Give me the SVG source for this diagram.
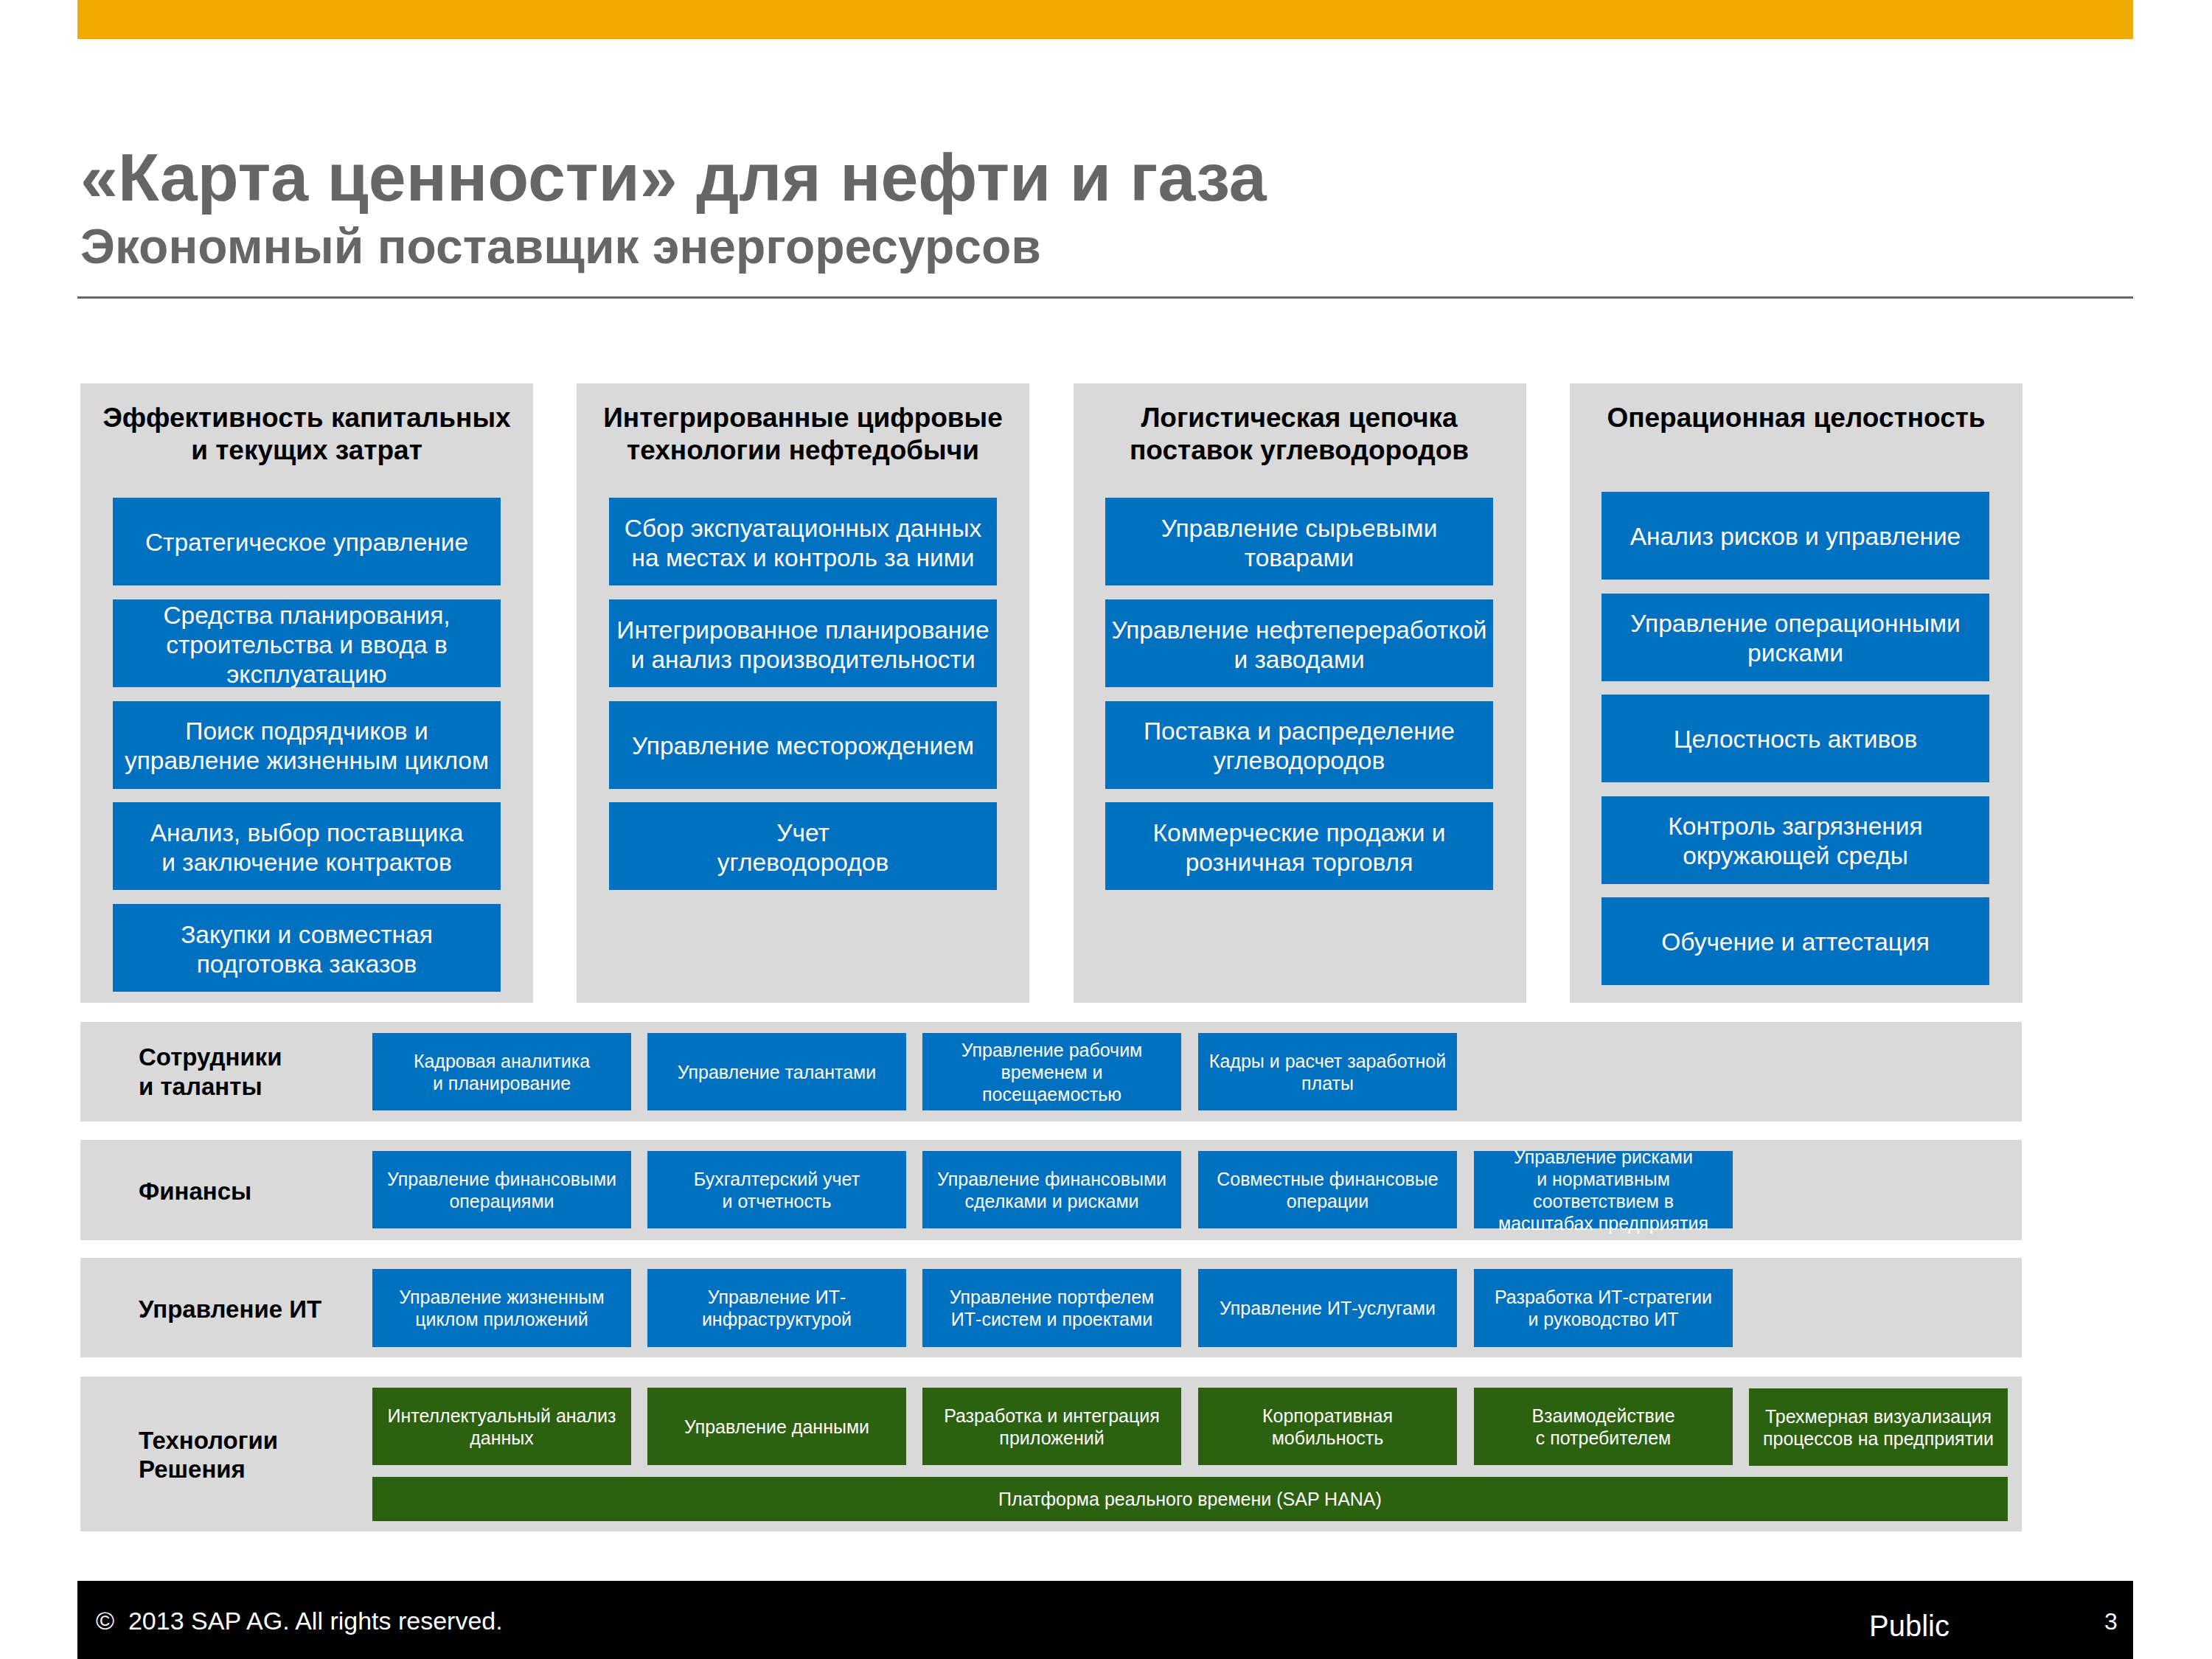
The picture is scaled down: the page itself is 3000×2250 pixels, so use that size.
<svg xmlns="http://www.w3.org/2000/svg" width="3000" height="2250" viewBox="0 0 3000 2250">
<style>
.bg{fill:#ffffff}
.panel{fill:#D9D9D9}
.blue{fill:#0070C0}
.green{fill:#2B610F}
.ttl{font-family:"Liberation Sans",Arial,sans-serif;font-weight:bold;fill:#666666}
.colt{font-family:"Liberation Sans",Arial,sans-serif;font-weight:bold;font-size:37px;fill:#000000;text-anchor:middle}
.bt{font-family:"Liberation Sans",Arial,sans-serif;font-size:33.5px;fill:#ffffff;text-anchor:middle}
.st{font-family:"Liberation Sans",Arial,sans-serif;font-size:25px;fill:#ffffff;text-anchor:middle}
.bl{font-family:"Liberation Sans",Arial,sans-serif;font-weight:bold;font-size:33px;fill:#000000}
.ft{font-family:"Liberation Sans",Arial,sans-serif;fill:#ffffff}
</style>
<rect class="bg" x="0" y="0" width="3000" height="2250"/>
<g id="header">
<rect x="105" y="0" width="2788" height="53" fill="#F0AB00"/>
<text class="ttl" x="109" y="272" font-size="91.5">«Карта ценности» для нефти и газа</text>
<text class="ttl" x="109" y="357" font-size="66">Экономный поставщик энергоресурсов</text>
<rect x="105" y="402" width="2788" height="3" fill="#666666"/>
</g>
<g id="connectors"></g>

<g id="col1">
<rect class="panel" x="109" y="520" width="614" height="840"/>
<text class="colt" x="416" y="579">Эффективность капитальных</text>
<text class="colt" x="416" y="623">и текущих затрат</text>
</g>
<g id="c1b1"><rect class="blue" x="153" y="675" width="526" height="119"/><text class="bt" x="416" y="747">Стратегическое управление</text></g>
<g id="c1b2"><rect class="blue" x="153" y="813" width="526" height="119"/><text class="bt" x="416" y="846">Средства планирования,</text><text class="bt" x="416" y="886">строительства и ввода в</text><text class="bt" x="416" y="926">эксплуатацию</text></g>
<g id="c1b3"><rect class="blue" x="153" y="951" width="526" height="119"/><text class="bt" x="416" y="1003">Поиск подрядчиков и</text><text class="bt" x="416" y="1043">управление жизненным циклом</text></g>
<g id="c1b4"><rect class="blue" x="153" y="1088" width="526" height="119"/><text class="bt" x="416" y="1141">Анализ, выбор поставщика</text><text class="bt" x="416" y="1181">и заключение контрактов</text></g>
<g id="c1b5"><rect class="blue" x="153" y="1226" width="526" height="119"/><text class="bt" x="416" y="1279">Закупки и совместная</text><text class="bt" x="416" y="1319">подготовка заказов</text></g>

<g id="col2">
<rect class="panel" x="782" y="520" width="614" height="840"/>
<text class="colt" x="1089" y="579">Интегрированные цифровые</text>
<text class="colt" x="1089" y="623">технологии нефтедобычи</text>
</g>
<g id="c2b1"><rect class="blue" x="826" y="675" width="526" height="119"/><text class="bt" x="1089" y="728">Сбор экспуатационных данных</text><text class="bt" x="1089" y="768">на местах и контроль за ними</text></g>
<g id="c2b2"><rect class="blue" x="826" y="813" width="526" height="119"/><text class="bt" x="1089" y="866">Интегрированное планирование</text><text class="bt" x="1089" y="906">и анализ производительности</text></g>
<g id="c2b3"><rect class="blue" x="826" y="951" width="526" height="119"/><text class="bt" x="1089" y="1023">Управление месторождением</text></g>
<g id="c2b4"><rect class="blue" x="826" y="1088" width="526" height="119"/><text class="bt" x="1089" y="1141">Учет</text><text class="bt" x="1089" y="1181">углеводородов</text></g>

<g id="col3">
<rect class="panel" x="1456" y="520" width="614" height="840"/>
<text class="colt" x="1762" y="579">Логистическая цепочка</text>
<text class="colt" x="1762" y="623">поставок углеводородов</text>
</g>
<g id="c3b1"><rect class="blue" x="1499" y="675" width="526" height="119"/><text class="bt" x="1762" y="728">Управление сырьевыми</text><text class="bt" x="1762" y="768">товарами</text></g>
<g id="c3b2"><rect class="blue" x="1499" y="813" width="526" height="119"/><text class="bt" x="1762" y="866">Управление нефтепереработкой</text><text class="bt" x="1762" y="906">и заводами</text></g>
<g id="c3b3"><rect class="blue" x="1499" y="951" width="526" height="119"/><text class="bt" x="1762" y="1003">Поставка и распределение</text><text class="bt" x="1762" y="1043">углеводородов</text></g>
<g id="c3b4"><rect class="blue" x="1499" y="1088" width="526" height="119"/><text class="bt" x="1762" y="1141">Коммерческие продажи и</text><text class="bt" x="1762" y="1181">розничная торговля</text></g>

<g id="col4">
<rect class="panel" x="2129" y="520" width="614" height="840"/>
<text class="colt" x="2436" y="579">Операционная целостность</text>
</g>
<g id="c4b1"><rect class="blue" x="2172" y="667" width="526" height="119"/><text class="bt" x="2435" y="739">Анализ рисков и управление</text></g>
<g id="c4b2"><rect class="blue" x="2172" y="805" width="526" height="119"/><text class="bt" x="2435" y="857">Управление операционными</text><text class="bt" x="2435" y="897">рисками</text></g>
<g id="c4b3"><rect class="blue" x="2172" y="942" width="526" height="119"/><text class="bt" x="2435" y="1014">Целостность активов</text></g>
<g id="c4b4"><rect class="blue" x="2172" y="1080" width="526" height="119"/><text class="bt" x="2435" y="1132">Контроль загрязнения</text><text class="bt" x="2435" y="1172">окружающей среды</text></g>
<g id="c4b5"><rect class="blue" x="2172" y="1217" width="526" height="119"/><text class="bt" x="2435" y="1289">Обучение и аттестация</text></g>

<g id="band1">
<rect class="panel" x="109" y="1386" width="2633" height="135"/>
<text class="bl" x="188" y="1445">Сотрудники</text>
<text class="bl" x="188" y="1485">и таланты</text>
</g>
<g id="r1b1"><rect class="blue" x="505" y="1401" width="351" height="105"/><text class="st" x="680.5" y="1448">Кадровая аналитика</text><text class="st" x="680.5" y="1478">и планирование</text></g>
<g id="r1b2"><rect class="blue" x="878" y="1401" width="351" height="105"/><text class="st" x="1053.5" y="1463">Управление талантами</text></g>
<g id="r1b3"><rect class="blue" x="1251" y="1401" width="351" height="105"/><text class="st" x="1426.5" y="1433">Управление рабочим</text><text class="st" x="1426.5" y="1463">временем и</text><text class="st" x="1426.5" y="1493">посещаемостью</text></g>
<g id="r1b4"><rect class="blue" x="1625" y="1401" width="351" height="105"/><text class="st" x="1800.5" y="1448">Кадры и расчет заработной</text><text class="st" x="1800.5" y="1478">платы</text></g>

<g id="band2">
<rect class="panel" x="109" y="1546" width="2633" height="136"/>
<text class="bl" x="188" y="1627">Финансы</text>
</g>
<g id="r2b1"><rect class="blue" x="505" y="1561" width="351" height="105"/><text class="st" x="680.5" y="1608">Управление финансовыми</text><text class="st" x="680.5" y="1638">операциями</text></g>
<g id="r2b2"><rect class="blue" x="878" y="1561" width="351" height="105"/><text class="st" x="1053.5" y="1608">Бухгалтерский учет</text><text class="st" x="1053.5" y="1638">и отчетность</text></g>
<g id="r2b3"><rect class="blue" x="1251" y="1561" width="351" height="105"/><text class="st" x="1426.5" y="1608">Управление финансовыми</text><text class="st" x="1426.5" y="1638">сделками и рисками</text></g>
<g id="r2b4"><rect class="blue" x="1625" y="1561" width="351" height="105"/><text class="st" x="1800.5" y="1608">Совместные финансовые</text><text class="st" x="1800.5" y="1638">операции</text></g>
<g id="r2b5"><rect class="blue" x="1999" y="1561" width="351" height="105"/><text class="st" x="2174.5" y="1578">Управление рисками</text><text class="st" x="2174.5" y="1608">и нормативным</text><text class="st" x="2174.5" y="1638">соответствием в</text><text class="st" x="2174.5" y="1668">масштабах предприятия</text></g>

<g id="band3">
<rect class="panel" x="109" y="1706" width="2633" height="135"/>
<text class="bl" x="188" y="1787">Управление ИТ</text>
</g>
<g id="r3b1"><rect class="blue" x="505" y="1721" width="351" height="106"/><text class="st" x="680.5" y="1768">Управление жизненным</text><text class="st" x="680.5" y="1798">циклом приложений</text></g>
<g id="r3b2"><rect class="blue" x="878" y="1721" width="351" height="106"/><text class="st" x="1053.5" y="1768">Управление ИТ-</text><text class="st" x="1053.5" y="1798">инфраструктурой</text></g>
<g id="r3b3"><rect class="blue" x="1251" y="1721" width="351" height="106"/><text class="st" x="1426.5" y="1768">Управление портфелем</text><text class="st" x="1426.5" y="1798">ИТ-систем и проектами</text></g>
<g id="r3b4"><rect class="blue" x="1625" y="1721" width="351" height="106"/><text class="st" x="1800.5" y="1783">Управление ИТ-услугами</text></g>
<g id="r3b5"><rect class="blue" x="1999" y="1721" width="351" height="106"/><text class="st" x="2174.5" y="1768">Разработка ИТ-стратегии</text><text class="st" x="2174.5" y="1798">и руководство ИТ</text></g>

<g id="band4">
<rect class="panel" x="109" y="1867" width="2633" height="210"/>
<text class="bl" x="188" y="1965">Технологии</text>
<text class="bl" x="188" y="2004">Решения</text>
</g>
<g id="r4b1"><rect class="green" x="505" y="1882" width="351" height="105"/><text class="st" x="680.5" y="1929">Интеллектуальный анализ</text><text class="st" x="680.5" y="1959">данных</text></g>
<g id="r4b2"><rect class="green" x="878" y="1882" width="351" height="105"/><text class="st" x="1053.5" y="1944">Управление данными</text></g>
<g id="r4b3"><rect class="green" x="1251" y="1882" width="351" height="105"/><text class="st" x="1426.5" y="1929">Разработка и интеграция</text><text class="st" x="1426.5" y="1959">приложений</text></g>
<g id="r4b4"><rect class="green" x="1625" y="1882" width="351" height="105"/><text class="st" x="1800.5" y="1929">Корпоративная</text><text class="st" x="1800.5" y="1959">мобильность</text></g>
<g id="r4b5"><rect class="green" x="1999" y="1882" width="351" height="105"/><text class="st" x="2174.5" y="1929">Взаимодействие</text><text class="st" x="2174.5" y="1959">с потребителем</text></g>
<g id="r4b6"><rect class="green" x="2372" y="1883" width="351" height="105"/><text class="st" x="2547.5" y="1930">Трехмерная визуализация</text><text class="st" x="2547.5" y="1960">процессов на предприятии</text></g>
<g id="hana"><rect class="green" x="505" y="2003" width="2218" height="60"/><text class="st" x="1614" y="2042">Платформа реального времени (SAP HANA)</text></g>

<g id="footer">
<rect x="105" y="2144" width="2788" height="106" fill="#000000"/>
<text class="ft" x="130" y="2210" font-size="34" xml:space="preserve">©  2013 SAP AG. All rights reserved.</text>
<text class="ft" x="2535" y="2219" font-size="40">Public</text>
<text class="ft" x="2854" y="2210" font-size="32">3</text>
</g>
</svg>
